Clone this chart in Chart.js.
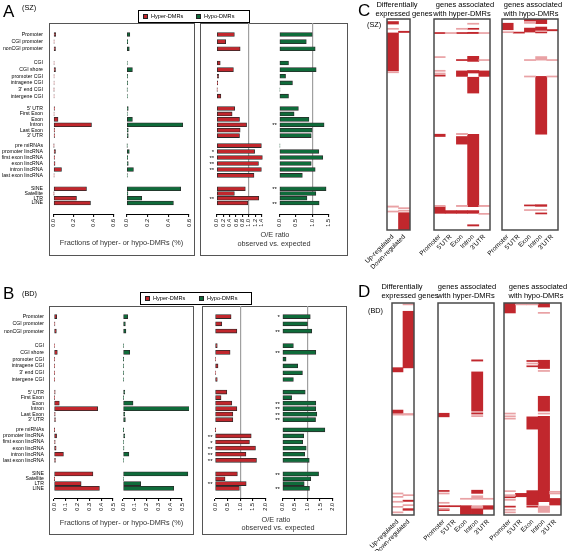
<!DOCTYPE html>
<html><head><meta charset="utf-8">
<script src="https://cdn.jsdelivr.net/npm/chart.js@4"></script>
<style>
html,body{margin:0;padding:0;background:#fff;}
#root{position:relative;width:567px;height:551px;overflow:hidden;font-family:"Liberation Sans",Arial,Helvetica,sans-serif;color:#000;background:#fff;}
.box{position:absolute;border:1.5px solid #555;box-sizing:border-box;}
.t{position:absolute;white-space:nowrap;line-height:1;filter:grayscale(1);}
canvas{position:absolute;}
</style></head><body><div id="root"></div>
<script>
// ---------------- DATA ----------------
const ROW_GROUPS = [
  ['Promoter', 'CGI promoter', 'nonCGI promoter'],
  ['CGI', 'CGI shore', 'promoter CGI', 'intragene CGI', "3' end CGI", 'intergene CGI'],
  ["5' UTR", 'First Exon', 'Exon', 'Intron', 'Last Exon', "3' UTR"],
  ['pre miRNAs', 'promoter lincRNA', 'first exon lincRNA', 'exon lincRNA', 'intron lincRNA', 'last exon lincRNA'],
  ['SINE', 'Satellite', 'LTR', 'LINE']
];
const SERIES_NAMES = ['Hyper-DMRs', 'Hypo-DMRs'];

const A_FRAC_HYPER = [0.022,0.005,0.02, 0.005,0.02,0.005,0.005,0.004,0.005, 0.01,0.005,0.045,0.38,0.01,0.01, 0.003,0.02,0.01,0.015,0.08,0.005, 0.33,0.003,0.23,0.37];
const A_FRAC_HYPO  = [0.03,0.01,0.025, 0.005,0.055,0.008,0.008,0.004,0.006, 0.015,0.005,0.055,0.54,0.015,0.015, 0.003,0.025,0.01,0.015,0.065,0.005, 0.52,0.012,0.145,0.45];
const A_OE_HYPER   = [0.55,0.28,0.73, 0.11,0.52,0.06,0.03,0.01,0.13, 0.56,0.48,0.71,0.93,0.73,0.71, 1.39,1.18,1.42,1.30,1.39,1.16, 0.89,0.55,1.31,0.97];
const A_OE_HYPO    = [1.0,0.82,1.09, 0.28,1.12,0.19,0.40,0.02,0.28, 0.58,0.45,0.90,1.36,1.0,0.97, 0.02,1.20,1.32,0.97,1.09,0.70, 1.42,1.11,0.84,1.21];
const A_OE_HYPER_SIG = ['','','', '','','','','','', '','','','','','', '','*','**','**','**','', '','','**',''];
const A_OE_HYPO_SIG  = ['','','', '','','','','','', '','','','**','','', '','','','','','', '**','','','**'];

const B_FRAC_HYPER = [0.023,0.008,0.02, 0.005,0.028,0.004,0.004,0.004,0.004, 0.01,0.004,0.045,0.37,0.01,0.012, 0.003,0.022,0.01,0.018,0.08,0.012, 0.33,0.003,0.23,0.385];
const B_FRAC_HYPO  = [0.04,0.02,0.025, 0.005,0.057,0.003,0.004,0.004,0.006, 0.015,0.004,0.085,0.57,0.015,0.02, 0.003,0.015,0.006,0.008,0.05,0.005, 0.55,0.005,0.15,0.43];
const B_OE_HYPER   = [0.64,0.27,0.87, 0.09,0.60,0.02,0.12,0.03,0.09, 0.47,0.24,0.67,0.87,0.71,0.71, 0.01,1.44,1.37,1.61,1.23,1.65, 0.89,0.40,1.24,0.97];
const B_OE_HYPO    = [1.11,1.0,1.17, 0.44,1.33,0.15,0.61,0.80,0.44, 0.91,0.37,1.33,1.33,1.37,1.32, 1.69,0.85,0.81,0.95,0.89,1.07, 1.44,1.13,0.87,1.08];
const B_OE_HYPER_SIG = ['','','', '','','','','','', '','','','','','', '','**','*','**','**','**', '','','**',''];
const B_OE_HYPO_SIG  = ['*','','**', '','**','','','','', '','','**','**','**','**', '','','','','','', '**','','','**'];

const A_FRAC_TICKS = [0, 0.2, 0.4, 0.6];
const A_OE_HYPER_TICKS = [0, 0.2, 0.4, 0.6, 0.8, 1.0, 1.2, 1.4];
const A_OE_HYPO_TICKS = [0, 0.5, 1.0, 1.5];
const B_FRAC_TICKS = [0, 0.1, 0.2, 0.3, 0.4, 0.5];
const B_OE_TICKS = [0, 0.5, 1.0, 1.5, 2.0];

// Heat maps: [column, start %, end %] of the gene list (top = 0)
const DE_COLS = ['Up-regulated', 'Down-regulated'];
const REGION_COLS = ['Promoter', "5'UTR", 'Exon', 'Intron', "3'UTR"];

const C_DE_DARK = [['Up-regulated',1.2,2.4],['Up-regulated',6.6,24.5],['Down-regulated',5.8,6.4],['Down-regulated',91.8,100]];
const C_DE_PINK = [['Up-regulated',4.4,4.9],['Up-regulated',24.9,25.5],['Up-regulated',88.6,89.2],['Up-regulated',91.0,91.5],['Down-regulated',89.4,89.9],['Down-regulated',90.6,91.1]];
const C_HYPER_DARK = [['Intron',4.4,4.9],['Promoter',6.4,6.9],['Exon',6.4,6.9],['Intron',6.3,6.9],['Exon',19.2,19.7],['Intron',17.7,20.1],['Intron',24.4,25.6],['Promoter',26.5,27.1],['Exon',24.6,27.2],["3'UTR",24.6,27.2],['Intron',27.6,35.1],['Promoter',54.6,55.7],['Exon',55.7,59.3],['Intron',54.6,88.9],['Promoter',89.0,92.1],["5'UTR",90.8,92.1],['Exon',90.8,92.1],['Intron',90.8,92.1],['Intron',97.5,98.1]];
const C_HYPER_PINK = [['Intron',2.0,2.5],['Exon',4.4,4.9],["5'UTR",6.4,6.9],["3'UTR",6.4,6.9],['Promoter',17.8,18.3],["3'UTR",19.2,19.7],['Promoter',24.3,24.8],['Promoter',25.6,26.1],['Exon',54.2,54.8],['Exon',88.3,88.9],["3'UTR",88.3,88.9],['Promoter',88.3,88.9],["3'UTR",92.1,92.6]];
const C_HYPO_DARK = [['Exon',0,1.1],['Intron',0,2.2],['Promoter',2.0,5.1],['Exon',4.3,6.2],['Intron',3.8,5.6],['Intron',6.0,6.6],["3'UTR",5.0,5.6],["5'UTR",6.2,6.7],['Intron',27.2,54.6],['Exon',88.1,88.6],['Intron',88.0,88.8],['Intron',91.9,92.4]];
const C_HYPO_PINK = [['Exon',1.1,2.1],['Promoter',6.0,6.5],['Intron',5.6,6.0],['Intron',17.8,19.5],['Exon',19.2,19.7],["3'UTR",19.2,19.7],['Exon',27.0,27.5],["3'UTR",27.0,27.5],['Exon',90.3,90.8],['Intron',90.3,90.8]];

const D_DE_DARK = [['Up-regulated',30.5,32.5],['Up-regulated',50.5,52.1],['Down-regulated',3.9,30.6],['Down-regulated',93.0,93.6],['Down-regulated',97.0,97.8]];
const D_DE_PINK = [['Up-regulated',52.3,52.9],['Up-regulated',89.6,90.1],['Up-regulated',91.2,91.7],['Up-regulated',93.5,94.0],['Up-regulated',95.9,96.4],['Up-regulated',98.5,99.0],['Down-regulated',0.4,0.9],['Down-regulated',52.1,52.9],['Down-regulated',90.4,90.9],['Down-regulated',95.1,95.6]];
const D_HYPER_DARK = [['Intron',26.8,27.4],['Intron',32.5,51.0],['Intron',51.8,52.4],['Promoter',52.0,53.7],['Promoter',88.4,88.9],['Intron',88.3,89.8],['Promoter',95.6,96.1],["5'UTR",95.6,96.1],['Exon',95.6,100],['Intron',96.8,100],["3'UTR",95.6,97.3],['Promoter',97.4,97.9]];
const D_HYPER_PINK = [['Intron',53.1,53.6],['Promoter',89.6,90.1],['Intron',90.9,92.2],['Exon',92.1,92.6],['Intron',92.2,92.6],["3'UTR",92.1,92.6],['Promoter',94.0,94.5],['Promoter',96.8,97.3],['Intron',95.6,96.8]];
const D_HYPO_DARK = [['Promoter',0,4.7],['Intron',0,1.9],['Exon',27.1,27.6],['Exon',29.6,30.1],['Intron',27.0,30.9],['Intron',44.0,51.0],['Exon',53.7,59.5],['Intron',53.4,93.7],['Promoter',91.4,91.9],["5'UTR",89.8,91.4],['Exon',88.5,95.3],["3'UTR",92.2,95.3],['Promoter',95.8,96.3],['Exon',95.8,96.3]];
const D_HYPO_PINK = [["5'UTR",0.4,0.9],['Exon',0.4,0.9],['Intron',4.4,4.9],['Exon',28.3,28.8],['Intron',31.8,32.3],['Intron',51.9,52.4],['Promoter',51.9,52.4],['Promoter',53.2,53.7],['Promoter',54.3,54.8],['Promoter',88.5,89.0],['Promoter',90.4,90.9],['Promoter',92.6,93.1],["3'UTR",88.8,89.3],["3'UTR",89.6,90.1],['Promoter',97.3,97.8],['Promoter',98.5,99.0],['Intron',95.8,98.8]];

// ---------------- STYLE / LAYOUT ----------------
const FONT = '"Liberation Sans", Arial, Helvetica, sans-serif';
const RED = '#c1272d', GREEN = '#0f6b3a', BAR_EDGE = '#2a2a2a';
const HEAT_DARK = '#c1272d', HEAT_PINK = '#e9a2a5';
const ROW_PITCH = [7.5, 7, 5.7, 6.3, 5];
const GROUP_GAP = [15, 13, 10.5, 14];
const GEO_A = {y0: 23, y1: 214, firstRow: 31, lastRow: 206.5, labelRight: 43,
  fracHyper: [53.5, 113.5], fracHypo: [126.7, 189], oeHyper: [216.7, 261.7], oeHypo: [279.3, 328.7]};
const GEO_B = {y0: 306, y1: 498, firstRow: 313, lastRow: 492, labelRight: 44,
  fracHyper: [54, 113], fracHypo: [123, 182], oeHyper: [215, 265.3], oeHypo: [282.3, 332.7]};

Chart.defaults.font.family = FONT;
Chart.defaults.color = '#000';
Chart.defaults.animation = false;

const root = document.getElementById('root');
const ROW_LABELS = ROW_GROUPS.flat();
const ROW_POS = (() => {
  const pos = []; let y = 0;
  ROW_GROUPS.forEach((g, gi) => {
    g.forEach((_, i) => { pos.push(y); if (i < g.length - 1) y += ROW_PITCH[gi]; });
    if (gi < ROW_GROUPS.length - 1) y += GROUP_GAP[gi];
  });
  return pos;
})();

function text(str, x, baseline, size, align, extra) {
  const d = document.createElement('div');
  d.className = 't'; d.textContent = str;
  d.style.fontSize = size + 'px';
  d.style.left = x + 'px';
  d.style.top = (baseline - 0.8465 * size) + 'px';
  if (align === 'center') d.style.transform = 'translateX(-50%)';
  if (align === 'right') d.style.transform = 'translateX(-100%)';
  if (extra) Object.assign(d.style, extra);
  root.appendChild(d);
  return d;
}
function box(l, t, r, b, extra) {
  const d = document.createElement('div');
  d.className = 'box';
  Object.assign(d.style, {left: l + 'px', top: t + 'px', width: (r - l) + 'px', height: (b - t) + 'px'}, extra || {});
  root.appendChild(d);
  return d;
}
function canvasAt(left, top, w, h) {
  const c = document.createElement('canvas');
  c.width = w; c.height = h;
  c.style.left = left + 'px'; c.style.top = top + 'px';
  c.style.width = w + 'px'; c.style.height = h + 'px';
  root.appendChild(c);
  return c;
}

const starPlugin = {
  id: 'stars',
  afterDatasetsDraw(chart, args, opts) {
    if (!opts || !opts.marks) return;
    const ctx = chart.ctx, ys = chart.scales.y;
    ctx.save();
    ctx.font = '6px ' + FONT; ctx.textAlign = 'right'; ctx.textBaseline = 'middle'; ctx.fillStyle = '#000';
    opts.marks.forEach((m, i) => { if (m) ctx.fillText(m, chart.chartArea.left - 2.5, ys.getPixelForValue(ROW_POS[i]) + 1); });
    ctx.restore();
  }
};
const framePlugin = {
  id: 'frame',
  afterDraw(chart) {
    const a = chart.chartArea, ctx = chart.ctx;
    ctx.save(); ctx.strokeStyle = '#4a4a4a'; ctx.lineWidth = 1.5;
    ctx.strokeRect(a.left, a.top, a.right - a.left, a.bottom - a.top);
    ctx.restore();
  }
};

function barChart(o) {
  const geo = o.geo;
  const [x0, x1] = o.xr;
  const y0 = geo.y0, y1 = geo.y1;
  let left, pl, yw;
  if (o.labels) { left = 0; pl = 0; yw = x0; }
  else { left = Math.floor(x0 - (o.stars ? 16 : 7)); pl = x0 - left; yw = 0; }
  const width = Math.ceil(x1 - left + 7);
  const pr = width - (x1 - left);
  const top = Math.floor(y0 - 1);
  const pt = y0 - top;
  const height = Math.ceil(y1 - top + 20);
  const xh = height - (y1 - top);
  const k = (geo.lastRow - geo.firstRow) / (ROW_POS[ROW_POS.length - 1] - ROW_POS[0]);
  const yMin = ROW_POS[0] - (geo.firstRow - y0) / k;
  const yMax = ROW_POS[ROW_POS.length - 1] + (y1 - geo.lastRow) / k;
  const tk = o.ticks;
  const c = canvasAt(left, top, width, height);
  return new Chart(c, {
    type: 'bar',
    data: {datasets: [{
      label: o.name,
      data: o.values.map((v, i) => ({x: v, y: ROW_POS[i]})),
      backgroundColor: o.color, borderColor: BAR_EDGE, borderWidth: 0.8,
      borderSkipped: false, barThickness: 4, clip: false
    }]},
    options: {
      indexAxis: 'y', responsive: false, animation: false, events: [],
      layout: {padding: {left: pl, right: pr, top: pt, bottom: 0}},
      plugins: {legend: {display: false}, tooltip: {enabled: false}, stars: {marks: o.stars || null}},
      scales: {
        x: {
          type: 'linear', min: 0, max: tk[tk.length - 1],
          afterBuildTicks: s => { s.ticks = tk.map(v => ({value: v})); },
          ticks: {minRotation: 90, maxRotation: 90, autoSkip: false, padding: 2, font: {size: 5.5},
                  callback: v => Number(v).toFixed(1)},
          grid: {drawOnChartArea: !!o.refLine, tickLength: 3, tickColor: '#000', tickWidth: 1, lineWidth: 1.2,
                 color: ctx => (o.refLine && ctx.tick && Math.abs(ctx.tick.value - 1) < 1e-9) ? '#a0a0a0' : 'rgba(0,0,0,0)'},
          border: {display: true, color: '#000', width: 1},
          afterFit: s => { s.height = xh; s.paddingLeft = 0; s.paddingRight = 0; }
        },
        y: {
          type: 'linear', reverse: true, min: yMin, max: yMax, display: !!o.labels,
          afterBuildTicks: s => { s.ticks = ROW_POS.map(v => ({value: v})); },
          ticks: {autoSkip: false, padding: x0 - geo.labelRight, font: {size: 5.2}, callback: (v, i) => ROW_LABELS[i]},
          grid: {display: false, drawTicks: false}, border: {display: false},
          afterFit: s => { s.width = yw; s.paddingTop = 0; s.paddingBottom = 0; }
        }
      }
    },
    plugins: [starPlugin]
  });
}

function heatChart(o) {
  const [x0, x1] = o.xr, [y0, y1] = o.yr;
  const left = Math.floor(x0 - 46), pl = x0 - left;
  const width = Math.ceil(x1 - left + 5), pr = width - (x1 - left);
  const top = Math.floor(y0 - 2), pt = y0 - top;
  const height = Math.ceil(y1 - top + 42), xh = height - (y1 - top);
  const thick = (x1 - x0) / o.cols.length;
  const seg = arr => arr.map(([c, s, e]) => ({x: c, y: [s, e]}));
  const c = canvasAt(left, top, width, height);
  return new Chart(c, {
    type: 'bar',
    data: {labels: o.cols, datasets: [
      {data: seg(o.pink), backgroundColor: HEAT_PINK, borderWidth: 0, grouped: false, barThickness: thick},
      {data: seg(o.dark), backgroundColor: HEAT_DARK, borderWidth: 0, grouped: false, barThickness: thick}
    ]},
    options: {
      responsive: false, animation: false, events: [],
      layout: {padding: {left: pl, right: pr, top: pt, bottom: 0}},
      plugins: {legend: {display: false}, tooltip: {enabled: false}},
      scales: {
        x: {type: 'category', offset: true,
            grid: {display: false, drawTicks: false}, border: {display: false},
            ticks: {minRotation: 45, maxRotation: 45, autoSkip: false, padding: 3, font: {size: 6.5}},
            afterFit: s => { s.height = xh; s.paddingLeft = 0; s.paddingRight = 0; }},
        y: {type: 'linear', reverse: true, min: 0, max: 100, display: false}
      }
    },
    plugins: [framePlugin]
  });
}

// ---------------- PANELS A & B ----------------
function legendBox(l, t, r, b, sq1, tx1, sq2, tx2) {
  box(l, t, r, b, {border: '1px solid #000', background: '#fff'});
  const mid = (t + b) / 2;
  [[sq1, tx1, RED, SERIES_NAMES[0]], [sq2, tx2, GREEN, SERIES_NAMES[1]]].forEach(([sx, tx, col, name]) => {
    const s = document.createElement('div');
    Object.assign(s.style, {position: 'absolute', left: sx + 'px', top: (mid - 2.5) + 'px', width: '5px', height: '5px',
      background: col, border: '0.8px solid #222', boxSizing: 'border-box'});
    root.appendChild(s);
    text(name, tx, mid + 2, 5.6, 'left');
  });
}

// boxes
box(49, 23, 195, 256); box(200, 23, 348, 256);
box(49, 306, 194, 535); box(202, 306, 347, 535);
legendBox(138, 10, 250, 23, 143, 151, 196, 204);
legendBox(140, 292, 252, 305, 145, 153, 199, 207);

barChart({geo: GEO_A, xr: GEO_A.fracHyper, values: A_FRAC_HYPER, color: RED, ticks: A_FRAC_TICKS, labels: true, name: SERIES_NAMES[0]});
barChart({geo: GEO_A, xr: GEO_A.fracHypo, values: A_FRAC_HYPO, color: GREEN, ticks: A_FRAC_TICKS, name: SERIES_NAMES[1]});
barChart({geo: GEO_A, xr: GEO_A.oeHyper, values: A_OE_HYPER, color: RED, ticks: A_OE_HYPER_TICKS, refLine: true, stars: A_OE_HYPER_SIG, name: SERIES_NAMES[0]});
barChart({geo: GEO_A, xr: GEO_A.oeHypo, values: A_OE_HYPO, color: GREEN, ticks: A_OE_HYPO_TICKS, refLine: true, stars: A_OE_HYPO_SIG, name: SERIES_NAMES[1]});

barChart({geo: GEO_B, xr: GEO_B.fracHyper, values: B_FRAC_HYPER, color: RED, ticks: B_FRAC_TICKS, labels: true, name: SERIES_NAMES[0]});
barChart({geo: GEO_B, xr: GEO_B.fracHypo, values: B_FRAC_HYPO, color: GREEN, ticks: B_FRAC_TICKS, name: SERIES_NAMES[1]});
barChart({geo: GEO_B, xr: GEO_B.oeHyper, values: B_OE_HYPER, color: RED, ticks: B_OE_TICKS, refLine: true, stars: B_OE_HYPER_SIG, name: SERIES_NAMES[0]});
barChart({geo: GEO_B, xr: GEO_B.oeHypo, values: B_OE_HYPO, color: GREEN, ticks: B_OE_TICKS, refLine: true, stars: B_OE_HYPO_SIG, name: SERIES_NAMES[1]});

// axis titles
const TITLE_STYLE = {color: '#333'};
text('Fractions of hyper- or hypo-DMRs (%)', 121.5, 245.5, 7.3, 'center', TITLE_STYLE);
text('O/E ratio', 275, 237.5, 7.3, 'center', TITLE_STYLE);
text('observed vs. expected', 274, 246, 7.3, 'center', TITLE_STYLE);
text('Fractions of hyper- or hypo-DMRs (%)', 121.5, 525, 7.3, 'center', TITLE_STYLE);
text('O/E ratio', 276, 522, 7.3, 'center', TITLE_STYLE);
text('observed vs. expected', 278, 530.5, 7.3, 'center', TITLE_STYLE);

// panel letters
text('A', 3, 17, 17, 'left'); text('(SZ)', 22, 10.5, 7.3, 'left');
text('B', 3, 299, 17, 'left'); text('(BD)', 22, 296, 7.3, 'left');
text('C', 358, 16, 17, 'left'); text('(SZ)', 367, 27, 7.3, 'left');
text('D', 358, 297, 17, 'left'); text('(BD)', 368, 313, 7.3, 'left');

// ---------------- PANELS C & D ----------------
heatChart({xr: [387, 410], yr: [19, 230], cols: DE_COLS, dark: C_DE_DARK, pink: C_DE_PINK});
heatChart({xr: [434, 490], yr: [19, 230], cols: REGION_COLS, dark: C_HYPER_DARK, pink: C_HYPER_PINK});
heatChart({xr: [502, 558], yr: [19, 230], cols: REGION_COLS, dark: C_HYPO_DARK, pink: C_HYPO_PINK});
heatChart({xr: [392, 414], yr: [303, 515], cols: DE_COLS, dark: D_DE_DARK, pink: D_DE_PINK});
heatChart({xr: [438, 494], yr: [303, 515], cols: REGION_COLS, dark: D_HYPER_DARK, pink: D_HYPER_PINK});
heatChart({xr: [504, 561], yr: [303, 515], cols: REGION_COLS, dark: D_HYPO_DARK, pink: D_HYPO_PINK});

text('Differentially', 397, 7.5, 7.5, 'center'); text('expressed genes', 404, 16.5, 7.5, 'center');
text('genes associated', 465, 7.5, 7.5, 'center'); text('with hyper-DMRs', 462, 16.5, 7.5, 'center');
text('genes associated', 533, 7.5, 7.5, 'center'); text('with hypo-DMRs', 531, 16.5, 7.5, 'center');
text('Differentially', 402, 289, 7.5, 'center'); text('expressed genes', 410, 298.5, 7.5, 'center');
text('genes associated', 467, 289, 7.5, 'center'); text('with hyper-DMRs', 466, 298.5, 7.5, 'center');
text('genes associated', 538, 289, 7.5, 'center'); text('with hypo-DMRs', 536, 298.5, 7.5, 'center');
</script>
</body></html>
